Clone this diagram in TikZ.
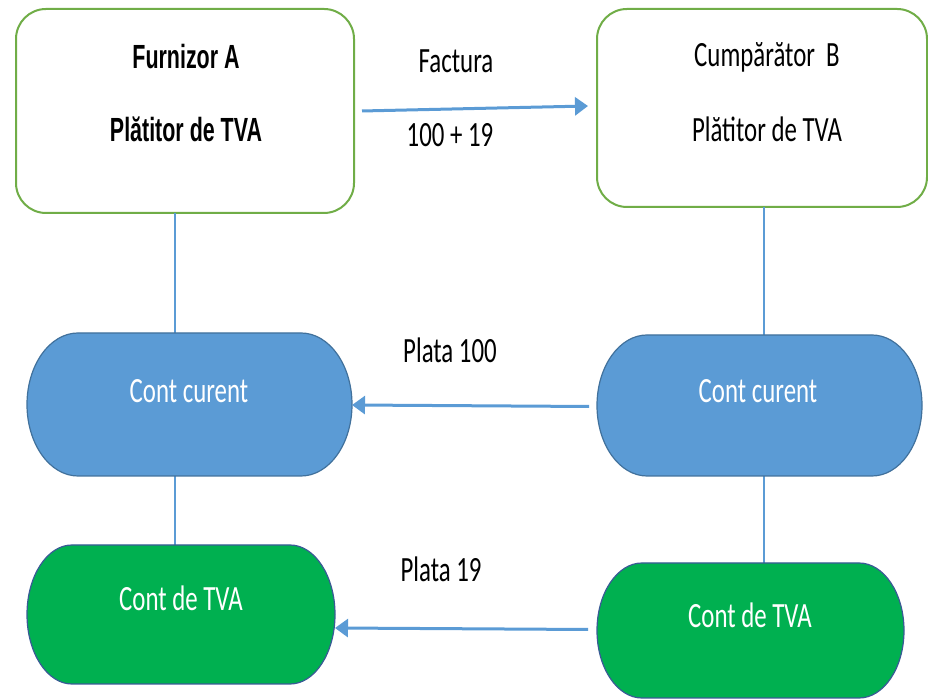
\documentclass[tikz,border=0pt]{standalone}
\usepackage{fontspec}
\setmainfont{Carlito}
\newfontfamily\narrowfont[FakeStretch=0.7]{Carlito}
\newfontfamily\boldnarrow[FakeStretch=0.64]{Liberation Sans Bold}
\usetikzlibrary{arrows.meta}
\definecolor{boxgreen}{HTML}{70AD47}
\definecolor{accblue}{HTML}{5B9BD5}
\definecolor{accblueedge}{HTML}{41719C}
\definecolor{vatgreen}{HTML}{00B050}
\definecolor{vatedge}{HTML}{3A5A96}
\tikzset{
  frame/.style={draw=boxgreen,line width=2pt,fill=white,rounded corners=30pt,inner sep=0pt,outer sep=0pt},
  slot/.style={draw=none,inner sep=0pt,outer sep=0pt},
  lbl/.style={anchor=base,inner sep=0pt,font=\narrowfont\fontsize{35.5}{40}\selectfont},
  blbl/.style={anchor=base,inner sep=0pt,font=\boldnarrow\fontsize{33.5}{38}\selectfont},
  wlbl/.style={lbl,text=white},
  link/.style={draw=accblue,line width=1.2pt},
  arr/.style={draw=accblue,line width=3pt,-{Triangle[length=13pt,width=18pt]}}
}
\newcommand\stadpath[5]{% name, rx, ry, fill, draw
  \filldraw[fill=#4,draw=#5,line width=1.2pt]
    ([xshift=#2]#1.north west) -- ([xshift=-#2]#1.north east)
    arc[start angle=90,end angle=-90,x radius=#2,y radius=#3]
    -- ([xshift=#2]#1.south west)
    arc[start angle=270,end angle=90,x radius=#2,y radius=#3] -- cycle;}
\begin{document}
\begin{tikzpicture}[x=1pt,y=1pt]
\useasboundingbox (0,0) rectangle (928,700);
% top boxes
\node[frame,minimum width=338pt,minimum height=204pt] (boxA) at (185,589) {};
\node[frame,minimum width=330pt,minimum height=198pt] (boxB) at (762,592) {};
\node[blbl] (tA1) at (186,631) {Furnizor A};
\node[blbl] (tA2) at (186,558) {Plătitor de TVA};
\node[lbl] (tB1) at (767,633) {Cumpărător~~B};
\node[lbl] (tB2) at (767,558) {Plătitor de TVA};
% account shapes
\node[slot,minimum width=325pt,minimum height=143pt] (ccA) at (189.5,295.5) {};
\node[slot,minimum width=325pt,minimum height=141pt] (ccB) at (759.5,294.5) {};
\node[slot,minimum width=308pt,minimum height=139pt] (ctA) at (181,85.5) {};
\node[slot,minimum width=307pt,minimum height=135pt] (ctB) at (750.5,69.5) {};
\coordinate (colA) at (175,0);
\coordinate (colB) at (764,0);
% vertical links
\draw[link] (boxA.south -| colA) -- (ccA.north -| colA);
\draw[link] (ccA.south -| colA) -- (ctA.north -| colA);
\draw[link] (boxB.south -| colB) -- (ccB.north -| colB);
\draw[link] (ccB.south -| colB) -- (ctB.north -| colB);
\stadpath{ccA}{51pt}{71.5pt}{accblue}{accblueedge}
\stadpath{ccB}{50pt}{70.5pt}{accblue}{accblueedge}
\stadpath{ctA}{45pt}{69.5pt}{vatgreen}{vatedge}
\stadpath{ctB}{45pt}{67.5pt}{vatgreen}{vatedge}
\node[wlbl] (lccA) at (189,297) {Cont curent};
\node[wlbl] (lccB) at (758,297) {Cont curent};
\node[wlbl] (lctA) at (181,89) {Cont de TVA};
\node[wlbl] (lctB) at (750,72) {Cont de TVA};
% arrows
\draw[arr] ([xshift=8pt]boxA.east) -- ([xshift=-9pt,yshift=2pt]boxB.west);
\draw[arr] ([xshift=-8pt,yshift=-1pt]ccB.west) -- ([yshift=-0.5pt]ccA.east);
\draw[arr] ([xshift=-9pt,yshift=1pt]ctB.west) -- ([yshift=-13.5pt]ctA.east);
% arrow labels
\node[lbl] (fact) at (456,627) {Factura};
\node[lbl] (sum) at (450,553) {100 + 19};
\node[lbl] (p100) at (450,337) {Plata 100};
\node[lbl] (p19) at (441,118) {Plata 19};
\end{tikzpicture}
\end{document}
